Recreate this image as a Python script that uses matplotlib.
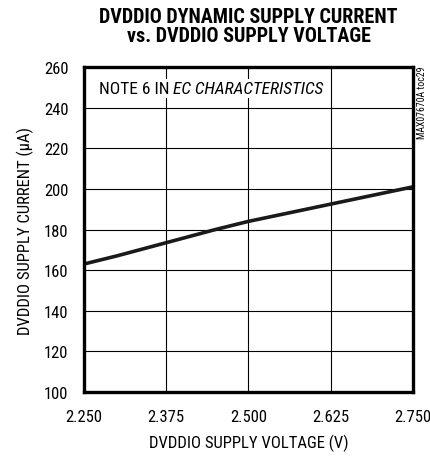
import matplotlib.pyplot as plt
from matplotlib import font_manager

# supply voltage (V) vs. dynamic supply current (uA)
voltage = [2.250, 2.300, 2.375, 2.450, 2.500, 2.625, 2.750]
current = [163.0, 167.0, 173.5, 180.0, 184.0, 192.5, 201.0]

x_ticks = [2.250, 2.375, 2.500, 2.625, 2.750]
x_tick_labels = ["2.250", "2.375", "2.500", "2.625", "2.750"]
y_ticks = [100, 120, 140, 160, 180, 200, 220, 240, 260]


def pick(*families):
    have = {f.name for f in font_manager.fontManager.ttflist}
    for fam in families:
        if fam in have:
            return fam
    return "DejaVu Sans"


body_font = pick("Arial Narrow", "Liberation Sans Narrow", "Roboto Condensed", "Archivo Narrow")
title_font = pick("Roboto Condensed", "Oswald", "Archivo Narrow")
plt.rcParams["font.family"] = [body_font, "DejaVu Sans"]

fig = plt.figure(figsize=(4.3, 4.6), dpi=100)
ax = fig.add_axes([0.195, 0.1457, 0.765, 0.7063])

ax.plot(voltage, current, color="#1a1a1a", lw=2.6, solid_capstyle="butt", zorder=3)

ax.set_xlim(2.25, 2.75)
ax.set_ylim(100, 260)
ax.set_xticks(x_ticks)
ax.set_xticklabels(x_tick_labels)
ax.set_yticks(y_ticks)
ax.tick_params(length=0, labelsize=12)
ax.tick_params(axis="y", pad=11)
ax.tick_params(axis="x", pad=12)
ax.grid(True, color="black", lw=0.8)
for s in ax.spines.values():
    s.set_linewidth(2.4)
    s.set_zorder(4)

ax.set_xlabel("DVDDIO SUPPLY VOLTAGE (V)", fontsize=12, labelpad=7)
ax.set_ylabel("DVDDIO SUPPLY CURRENT (µA)", fontsize=12, labelpad=7)

# note with the italic part appended right after the plain part
box = dict(facecolor="white", edgecolor="none", pad=1.5)
note = ax.text(0.045, 0.935, "NOTE 6 IN ", transform=ax.transAxes, fontsize=12.5,
               ha="left", va="center", zorder=5, bbox=box)
ax.annotate("EC CHARACTERISTICS", xy=(1, 0.5), xycoords=note, fontsize=12.5,
            style="italic", ha="left", va="center", zorder=5, bbox=box)

fig.text(0.982, 0.856, "MAX07670A toc29", rotation=90, fontsize=7,
         ha="center", va="top")

fig.text(0.578, 0.982, "DVDDIO DYNAMIC SUPPLY CURRENT\nvs. DVDDIO SUPPLY VOLTAGE",
         ha="center", va="top", fontsize=14.5, fontweight=900, linespacing=1.0,
         family=[title_font, "DejaVu Sans"])

fig.savefig("out.png", dpi=100)
